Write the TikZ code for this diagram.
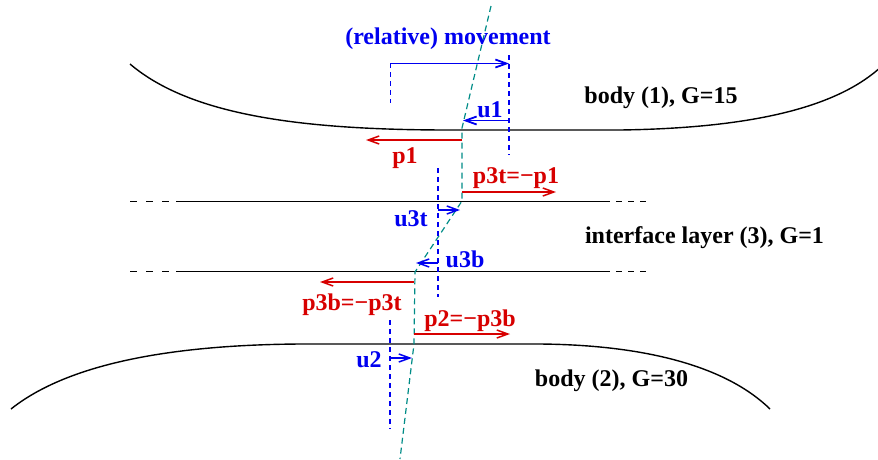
\documentclass[tikz,border=0pt]{standalone}
\usepackage{fontspec}
\setmainfont{Liberation Serif}
\usetikzlibrary{arrows.meta}
\definecolor{fred}{RGB}{215,0,0}
\definecolor{fblue}{RGB}{0,0,240}
\definecolor{fteal}{RGB}{0,140,135}
\begin{document}
\begin{tikzpicture}[x=1pt,y=-1pt,
  lbl/.style={font=\fontsize{24}{24}\selectfont\bfseries, inner sep=0pt, anchor=base},
  bodyline/.style={line width=1.4pt, black},
  ifline/.style={line width=1.4pt, black},
  ifdashl/.style={line width=1.4pt, black, dash pattern=on 7pt off 9pt},
  ifdashr/.style={line width=1.4pt, black, dash pattern=on 6pt off 6pt},
  dimline/.style={fblue, line width=1.1pt, dash pattern=on 5pt off 4pt},
  defline/.style={fteal, line width=1.2pt, dash pattern=on 6pt off 4pt},
  tip/.style={-{Straight Barb[length=11pt,width=8pt]}},
  farrow/.style={tip, fred, line width=1.5pt},
  uarrow/.style={tip, fblue, line width=1.5pt},
]
\useasboundingbox (0,0) rectangle (878,459);

% bodies
\draw[bodyline] (130,64) .. controls (190,115) and (300,130) .. (450,130)
  -- (620,130) .. controls (760,128) and (840,105) .. (882,66);
\draw[bodyline] (11,409) .. controls (60,370) and (150,345) .. (300,344)
  -- (540,344) .. controls (650,345) and (728,368) .. (770,409);

% interface layer lines
\draw[ifdashl] (130,201.5) -- (172,201.5);
\draw[ifline] (176,201.5) -- (610,201.5);
\draw[ifdashr] (616,201.5) -- (648,201.5);
\draw[ifdashl] (130,271.5) -- (172,271.5);
\draw[ifline] (176,271.5) -- (610,271.5);
\draw[ifdashr] (616,271.5) -- (648,271.5);

% deformation line
\coordinate (d0) at (491,6);
\coordinate (d1) at (462,128);
\coordinate (d2) at (462,201);
\coordinate (d3) at (415,272);
\coordinate (d4) at (414,344);
\coordinate (d5) at (400,459);
\draw[defline] (d0) -- (d1) -- (d2) -- (d3) -- (d4) -- (d5);

% dimension (blue dashed) lines
\coordinate (m0) at (390.5,63);
\coordinate (m0b) at (390.5,103);
\coordinate (m1) at (509,55);
\coordinate (m1b) at (509,155);
\coordinate (v3) at (438,168);
\coordinate (v3b) at (438,297);
\coordinate (v2) at (390,320);
\coordinate (v2b) at (390,429);
\draw[dimline] (m0) -- (m0b);
\draw[dimline] (m1) -- (m1b);
\draw[dimline] (v3) -- (v3b);
\draw[dimline] (v2) -- (v2b);

% movement arrow
\coordinate (ma) at (390.5,63.5);
\coordinate (mb) at (509,63.5);
\draw[uarrow, line width=1.8pt] (ma) -- (mb);

% u arrows
\coordinate (u1a) at (509,120.5);
\coordinate (u1b) at (463,120.5);
\draw[uarrow, line width=1.8pt] (u1a) -- (u1b);
\coordinate (u3ta) at (438,210);
\coordinate (u3tb) at (460,210);
\draw[uarrow] (u3ta) -- (u3tb);
\coordinate (u3ba) at (438,263);
\coordinate (u3bb) at (416,263);
\draw[uarrow] (u3ba) -- (u3bb);
\coordinate (u2a) at (390,358);
\coordinate (u2b) at (412,358);
\draw[uarrow] (u2a) -- (u2b);

% force arrows
\coordinate (p1a) at (462,140);
\coordinate (p1b) at (366,140);
\draw[farrow] (p1a) -- (p1b);
\coordinate (p3ta) at (462,192);
\coordinate (p3tb) at (556,192);
\draw[farrow] (p3ta) -- (p3tb);
\coordinate (p3ba) at (414,282);
\coordinate (p3bb) at (320,282);
\draw[farrow] (p3ba) -- (p3bb);
\coordinate (p2a) at (414,334);
\coordinate (p2b) at (510,334);
\draw[farrow] (p2a) -- (p2b);

% labels
\node[lbl, fblue] (tmov) at (448,44.5) {(relative) movement};
\node[lbl] (tb1) at (661,103) {body (1), G=15};
\node[lbl] (tif) at (704.5,243) {interface layer (3), G=1};
\node[lbl] (tb2) at (611.5,386) {body (2), G=30};
\node[lbl, fblue] (tu1) at (490,117) {u1};
\node[lbl, fred] (tp1) at (405,163) {p1};
\node[lbl, fred] (tp3t) at (516,183) {p3t=−p1};
\node[lbl, fblue] (tu3t) at (411,226) {u3t};
\node[lbl, fblue] (tu3b) at (465,267) {u3b};
\node[lbl, fred] (tp3b) at (352,310) {p3b=−p3t};
\node[lbl, fred] (tp2) at (470,326.5) {p2=−p3b};
\node[lbl, fblue] (tu2) at (369,367) {u2};
\end{tikzpicture}
\end{document}
